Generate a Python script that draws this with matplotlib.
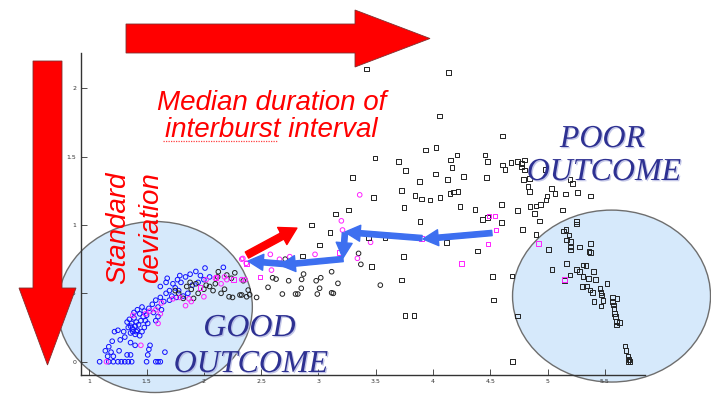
import matplotlib
matplotlib.use("Agg")
import matplotlib.pyplot as plt
import matplotlib.patheffects as pe
from matplotlib.patches import Ellipse, FancyArrow, FancyArrowPatch
from matplotlib.lines import Line2D

# --- data ---
blue_circles = [
    (1.09, 0), (1.17, 0), (1.21, 0), (1.25, 0), (1.28, 0), (1.31, 0), (1.34, 0), (1.37, 0),
    (1.50, 0), (1.58, 0), (1.60, 0), (1.62, 0),
    (1.16, 0.04), (1.21, 0.04), (1.33, 0.05), (1.36, 0.05), (1.51, 0.05), (1.66, 0.07),
    (1.14, 0.08), (1.19, 0.07), (1.26, 0.08), (1.52, 0.09), (1.53, 0.12),
    (1.17, 0.11), (1.20, 0.15), (1.27, 0.16), (1.31, 0.18), (1.36, 0.14), (1.40, 0.12),
    (1.22, 0.22), (1.25, 0.23), (1.30, 0.22), (1.34, 0.25), (1.36, 0.21), (1.38, 0.24),
    (1.40, 0.20), (1.42, 0.23), (1.44, 0.19), (1.46, 0.22), (1.48, 0.25),
    (1.33, 0.29), (1.35, 0.31), (1.37, 0.28), (1.39, 0.32), (1.41, 0.29), (1.43, 0.27),
    (1.45, 0.30), (1.47, 0.33), (1.40, 0.26), (1.38, 0.22), (1.41, 0.22), (1.36, 0.26),
    (1.39, 0.36), (1.42, 0.38), (1.44, 0.35), (1.46, 0.40), (1.48, 0.37), (1.50, 0.34),
    (1.52, 0.39), (1.49, 0.30), (1.51, 0.28),
    (1.55, 0.42), (1.58, 0.45), (1.60, 0.40), (1.62, 0.47), (1.65, 0.44), (1.67, 0.50),
    (1.56, 0.36), (1.63, 0.38),
    (1.70, 0.52), (1.73, 0.57), (1.75, 0.54), (1.77, 0.60), (1.80, 0.58), (1.78, 0.52),
    (1.76, 0.47), (1.72, 0.48),
    (1.84, 0.62), (1.88, 0.64), (1.93, 0.66), (1.97, 0.63), (2.01, 0.685), (2.17, 0.69),
    (1.90, 0.56), (1.95, 0.58), (2.00, 0.60), (2.05, 0.62),
    (1.62, 0.55), (1.68, 0.61), (1.82, 0.48), (1.86, 0.50), (1.70, 0.45), (1.60, 0.33),
    (1.58, 0.30), (1.67, 0.58), (1.79, 0.63),
]

magenta_circles = [
    (1.15, 0.0), (1.38, 0.34), (1.60, 0.28), (1.49, 0.35), (1.53, 0.37), (1.58, 0.38),
    (1.62, 0.35), (1.73, 0.46), (1.84, 0.41), (1.87, 0.46), (1.89, 0.44), (2.00, 0.475),
    (2.02, 0.60), (2.10, 0.61), (2.20, 0.60), (2.15, 0.57), (2.18, 0.62), (2.33, 0.60),
    (2.33, 0.75), (2.37, 0.72), (2.34, 0.755), (2.58, 0.785), (2.66, 0.749), (2.75, 0.768),
    (2.97, 0.785), (3.20, 1.03), (3.21, 0.963), (3.455, 0.873), (3.34, 0.756), (2.59, 0.67),
    (2.36, 0.60), (3.36, 1.22), (1.45, 0.12), (1.63, 0.43), (1.79, 0.47),
]

black_circles = [
    (1.82, 0.463), (1.89, 0.529), (1.91, 0.463), (1.95, 0.50), (2.00, 0.53), (2.05, 0.55),
    (2.10, 0.57), (2.126, 0.658), (2.20, 0.634), (2.24, 0.61), (2.27, 0.65), (2.22, 0.475),
    (2.25, 0.47), (2.315, 0.488), (2.33, 0.488), (2.373, 0.475), (2.387, 0.524), (2.40, 0.49),
    (2.46, 0.47), (2.344, 0.592), (2.56, 0.544), (2.60, 0.614), (2.63, 0.604), (2.685, 0.495),
    (2.74, 0.592), (2.80, 0.495), (2.82, 0.495), (2.85, 0.537), (2.853, 0.602), (2.87, 0.641),
    (2.71, 0.75), (2.98, 0.592), (3.02, 0.614), (2.99, 0.495), (3.01, 0.537), (3.115, 0.658),
    (3.17, 0.573), (3.115, 0.504), (3.13, 0.50), (3.35, 0.792), (3.37, 0.712), (3.54, 0.56),
    (1.75, 0.52), (1.78, 0.50), (1.85, 0.55), (1.93, 0.57), (2.02, 0.56), (2.08, 0.52),
    (2.15, 0.50), (2.18, 0.53), (2.12, 0.62), (1.88, 0.58),
]

black_squares = [
    (3.42, 2.14), (4.136, 2.115), (4.054, 1.796), (4.607, 1.65), (3.935, 1.548), (4.025, 1.567),
    (3.493, 1.489), (3.70, 1.462), (3.76, 1.396), (4.154, 1.474), (4.21, 1.511), (4.167, 1.421),
    (4.023, 1.372), (4.124, 1.333), (4.264, 1.352), (4.453, 1.511), (4.473, 1.462), (4.468, 1.345),
    (3.295, 1.348), (3.88, 1.316), (3.726, 1.25), (3.842, 1.214), (3.90, 1.19), (3.973, 1.182),
    (4.06, 1.20), (4.147, 1.231), (4.18, 1.24), (4.217, 1.246), (3.478, 1.2), (3.26, 1.109),
    (3.15, 1.08), (3.746, 1.126), (4.235, 1.133), (4.366, 1.114), (4.60, 1.15), (4.433, 1.041),
    (4.473, 1.056), (4.60, 1.016), (3.886, 1.023), (4.735, 1.104), (4.78, 0.968), (2.94, 1.00),
    (3.10, 0.943), (3.01, 0.853), (2.862, 0.773), (3.435, 0.909), (3.58, 0.909), (4.119, 0.873),
    (4.386, 0.809), (3.74, 0.768), (3.464, 0.694), (3.726, 0.597), (4.52, 0.621), (4.53, 0.451),
    (4.69, 0.626), (4.735, 0.334), (3.755, 0.336), (3.833, 0.336), (4.694, 0.0),
    (4.607, 1.438), (4.627, 1.406), (4.68, 1.455), (4.735, 1.462), (4.773, 1.45), (4.80, 1.474),
    (4.773, 1.425), (4.80, 1.401), (4.787, 1.333), (4.84, 1.34), (4.977, 1.406), (4.83, 1.279),
    (4.84, 1.243), (5.035, 1.267), (5.064, 1.231), (4.996, 1.213), (4.985, 1.182), (5.196, 1.333),
    (5.216, 1.304), (5.157, 1.226), (5.262, 1.238), (5.375, 1.211), (4.845, 1.133), (4.898, 1.138),
    (4.94, 1.15), (4.883, 1.085), (4.927, 1.028), (5.13, 1.109), (4.898, 0.931),
    (5.25, 1.023), (5.25, 1.006), (5.16, 0.968), (5.137, 0.955), (5.186, 0.926), (5.166, 0.89),
    (5.20, 0.877), (5.20, 0.84), (5.20, 0.817), (5.276, 0.84), (5.375, 0.865), (5.36, 0.804),
    (5.375, 0.797), (5.01, 0.822), (5.166, 0.719), (5.04, 0.675), (5.195, 0.634), (5.25, 0.675),
    (5.276, 0.658), (5.31, 0.707), (5.334, 0.702), (5.31, 0.621), (5.355, 0.61), (5.40, 0.658),
    (5.42, 0.602), (5.52, 0.573), (5.305, 0.548), (5.34, 0.553), (5.37, 0.524), (5.39, 0.507),
    (5.456, 0.537), (5.465, 0.504), (5.47, 0.488), (5.404, 0.439), (5.485, 0.446), (5.465, 0.407),
    (5.567, 0.468), (5.607, 0.463), (5.567, 0.439), (5.573, 0.414), (5.58, 0.39), (5.586, 0.354),
    (5.592, 0.329), (5.60, 0.292), (5.60, 0.268), (5.63, 0.288), (5.675, 0.115), (5.683, 0.08),
    (5.703, 0.042), (5.712, 0.018), (5.718, 0.0), (5.703, 0.0), (5.15, 0.595),
]

magenta_squares = [
    (2.49, 0.62), (2.37, 0.72), (2.673, 0.958), (3.18, 0.80), (4.49, 1.065), (4.54, 1.065),
    (4.55, 0.963), (4.48, 0.86), (4.25, 0.72), (4.92, 0.865), (5.15, 0.60), (2.257, 0.602),
    (2.106, 0.614), (1.966, 0.544), (3.90, 0.90),
]

x_ticks = [1, 1.5, 2, 2.5, 3, 3.5, 4, 4.5, 5, 5.5]
x_tick_labels = ["1", "1.5", "2", "2.5", "3", "3.5", "4", "4.5", "5", "5.5"]
y_ticks = [0, 0.5, 1, 1.5, 2]
y_tick_labels = ["0", "0.5", "1", "1.5", "2"]

# annotation arrows (data coords): blue trajectory and the red one
blue_path = [
    ((4.514, 0.941), (3.912, 0.897)),
    ((3.903, 0.904), (3.231, 0.948)),
    ((3.231, 0.941), (3.214, 0.758)),
    ((3.214, 0.751), (2.664, 0.707)),
    ((2.708, 0.714), (2.385, 0.736)),
]
red_arrow = ((2.376, 0.780), (2.812, 0.977))

W, H = 711, 398


def fx(x):
    return x / W


def fy(y):
    return 1 - y / H


fig = plt.figure(figsize=(W / 100, H / 100), dpi=100)
ax = fig.add_axes([fx(80.7), fy(375), fx(645) - fx(80.7), fy(53) - fy(375)])
ax.patch.set_alpha(0)

# outcome ellipses
ax.add_patch(Ellipse((1.573, 0.40), 1.70, 1.25, fc="#d6e9fb", ec="#6e6e6e", lw=1.0,
                     clip_on=False, zorder=0.5))
ax.add_patch(Ellipse((5.558, 0.48), 1.728, 1.257, fc="#d6e9fb", ec="#6e6e6e", lw=1.0,
                     clip_on=False, zorder=0.5))

mk = dict(linewidths=0.7, facecolors="none", clip_on=False, zorder=2)
ax.scatter([p[0] for p in blue_circles], [p[1] for p in blue_circles], s=11, marker="o",
           edgecolors="#1010ff", **mk)
ax.scatter([p[0] for p in black_circles], [p[1] for p in black_circles], s=11, marker="o",
           edgecolors="#222222", **mk)
ax.scatter([p[0] for p in magenta_circles], [p[1] for p in magenta_circles], s=11, marker="o",
           edgecolors="#ff22ff", **mk)
ax.scatter([p[0] for p in black_squares], [p[1] for p in black_squares], s=11, marker="s",
           edgecolors="#222222", **mk)
ax.scatter([p[0] for p in magenta_squares], [p[1] for p in magenta_squares], s=11, marker="s",
           edgecolors="#ff22ff", **mk)

ax.set_xlim(0.925, 5.85)
ax.set_ylim(-0.097, 2.257)
ax.set_xticks(x_ticks)
ax.set_xticklabels(x_tick_labels)
ax.set_yticks(y_ticks)
ax.set_yticklabels(y_tick_labels)
ax.tick_params(direction="in", length=4, width=0.6, labelsize=4.5, pad=3, colors="#333333")
for side in ("top", "right"):
    ax.spines[side].set_visible(False)
for side in ("left", "bottom"):
    ax.spines[side].set_color("#333333")
    ax.spines[side].set_linewidth(1.0)

for a, b in blue_path:
    ax.add_patch(FancyArrowPatch(a, b, arrowstyle="simple,head_length=1.1,head_width=1.15,tail_width=0.38",
                                 mutation_scale=10, color="#3d6ff0", shrinkA=0, shrinkB=0,
                                 clip_on=False, zorder=4))
ax.add_patch(FancyArrowPatch(red_arrow[0], red_arrow[1],
                             arrowstyle="simple,head_length=1.2,head_width=1.4,tail_width=0.5",
                             mutation_scale=10, color="#ff0000", shrinkA=0, shrinkB=0,
                             clip_on=False, zorder=4))

# big red arrows (in inches, dpi 100 -> px/100)
fig.add_artist(FancyArrow(1.26, 3.595, 3.04, 0, width=0.29, head_width=0.57, head_length=0.75,
                          length_includes_head=True, transform=fig.dpi_scale_trans,
                          fc="#ff0000", ec="#803030", lw=0.6))
fig.add_artist(FancyArrow(0.475, 3.37, 0, -3.04, width=0.29, head_width=0.57, head_length=0.77,
                          length_includes_head=True, transform=fig.dpi_scale_trans,
                          fc="#ff0000", ec="#803030", lw=0.6))

red_txt = dict(fontsize=20, style="italic", family="Liberation Sans", color="#ff0000",
               ha="center", va="baseline")
fig.text(fx(271.5), fy(109.5), "Median duration of", **red_txt)
fig.text(fx(271.5), fy(137), "interburst interval", **red_txt)
fig.add_artist(Line2D([fx(163), fx(277)], [fy(141), fy(141)], color="#ff4040", lw=0.9,
                      ls=(0, (1, 1)), transform=fig.transFigure))
fig.text(fx(125), fy(228), "Standard", rotation=90, rotation_mode="anchor", **red_txt)
fig.text(fx(158), fy(228), "deviation", rotation=90, rotation_mode="anchor", **red_txt)

out_txt = dict(fontsize=23, style="italic", family="Liberation Serif", color="#2e3192",
               ha="center", va="baseline",
               path_effects=[pe.withSimplePatchShadow(offset=(0.9, -0.9), shadow_rgbFace="#b4b8e2",
                                                      alpha=0.8)])
fig.text(fx(249.5), fy(336), "GOOD", **out_txt)
fig.text(fx(251), fy(372), "OUTCOME", **out_txt)
fig.text(fx(602.5), fy(147), "POOR", **out_txt)
fig.text(fx(604), fy(180), "OUTCOME", **out_txt)

fig.savefig("out.png", dpi=100)
